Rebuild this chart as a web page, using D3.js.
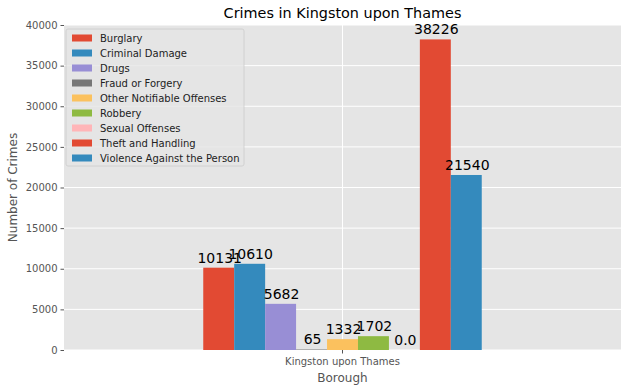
<!DOCTYPE html>
<html><head><meta charset="utf-8">
<script src="https://cdn.jsdelivr.net/npm/d3@7"></script>
<style>body{margin:0;background:#fff;} text{font-family:"DejaVu Sans",sans-serif;}</style>
</head><body>
<svg id="c" width="627" height="391"></svg>
<script>
const categories = ["Kingston upon Thames"];
const seriesNames = ["Burglary","Criminal Damage","Drugs","Fraud or Forgery","Other Notifiable Offenses","Robbery","Sexual Offenses","Theft and Handling","Violence Against the Person"];
const seriesValues = [10131, 10610, 5682, 65, 1332, 1702, 0, 38226, 21540];
const valueLabels = ["10131","10610","5682","65","1332","1702","0.0","38226","21540"];
const colors = ["#E24A33","#348ABD","#988ED5","#777777","#FBC15E","#8EBA42","#FFB5B8","#E24A33","#348ABD"];
const yTicks = [0,5000,10000,15000,20000,25000,30000,35000,40000];

const svg = d3.select("#c");
const m = {l:64, r:6, t:25, b:41};
const W = 627, H = 391;
const pw = W - m.l - m.r, ph = H - m.t - m.b;
const g = svg.append("g").attr("transform",`translate(${m.l},${m.t})`);
g.append("rect").attr("width",pw).attr("height",ph).attr("fill","#E5E5E5");

const y = d3.scaleLinear().domain([0,40000]).range([ph,0]);
const x = d3.scaleLinear().domain([-0.5,0.5]).range([0,pw]);
const groupW = 0.5, bw = groupW/seriesNames.length;

// grid
g.selectAll(".gy").data(yTicks).join("line").attr("x1",0).attr("x2",pw)
 .attr("y1",d=>y(d)).attr("y2",d=>y(d)).attr("stroke","#fff").attr("stroke-width",1);
g.append("line").attr("x1",x(0)).attr("x2",x(0)).attr("y1",0).attr("y2",ph).attr("stroke","#fff");

// bars
const bars = seriesNames.map((n,i)=>({name:n,v:seriesValues[i],lab:valueLabels[i],c:colors[i],x0:-groupW/2+i*bw}));
g.selectAll(".bar").data(bars).join("rect")
 .attr("x",d=>x(d.x0)).attr("width",d=>x(d.x0+bw)-x(d.x0))
 .attr("y",d=>y(d.v)).attr("height",d=>ph-y(d.v)).attr("fill",d=>d.c);
g.selectAll(".vl").data(bars).join("text")
 .attr("x",d=>x(d.x0+bw/2)+1).attr("y",d=>y(d.v)-5)
 .attr("text-anchor","middle").attr("font-size",14).attr("fill","#000").text(d=>d.lab);

// y axis
const ya = g.append("g").call(d3.axisLeft(y).tickValues(yTicks).tickSize(3.5).tickPadding(3).tickFormat(d3.format("d")));
ya.select(".domain").remove();
ya.selectAll("line").attr("stroke","#555");
ya.selectAll("text").attr("font-size",10).attr("fill","#555").attr("font-family","DejaVu Sans");
// x axis
const xa = g.append("g").attr("transform",`translate(0,${ph})`);
xa.append("line").attr("x1",x(0)).attr("x2",x(0)).attr("y1",0).attr("y2",3.5).attr("stroke","#555");
xa.append("text").attr("x",x(0)).attr("y",15).attr("text-anchor","middle").attr("font-size",10).attr("fill","#555").text(categories[0]);

svg.append("text").attr("x",m.l+pw/2).attr("y",382).attr("text-anchor","middle").attr("font-size",12).attr("fill","#555").text("Borough");
svg.append("text").attr("transform",`translate(17,${m.t+ph/2}) rotate(-90)`).attr("text-anchor","middle").attr("font-size",12).attr("fill","#555").text("Number of Crimes");
svg.append("text").attr("x",m.l+pw/2).attr("y",18).attr("text-anchor","middle").attr("font-size",14.4).attr("fill","#000").text("Crimes in Kingston upon Thames");

// legend
const lg = g.append("g").attr("transform","translate(2,4)");
lg.append("rect").attr("width",178).attr("height",137).attr("rx",2).attr("fill","#E5E5E5").attr("fill-opacity",0.8).attr("stroke","#ccc").attr("stroke-width",0.8);
const li = lg.selectAll(".li").data(bars).join("g").attr("transform",(d,i)=>`translate(6,${5+i*15})`);
li.append("rect").attr("width",20).attr("height",7).attr("y",0.5).attr("fill",d=>d.c);
li.append("text").attr("x",28).attr("y",8).attr("font-size",10).attr("fill","#222").text(d=>d.name);
</script>
</body></html>
